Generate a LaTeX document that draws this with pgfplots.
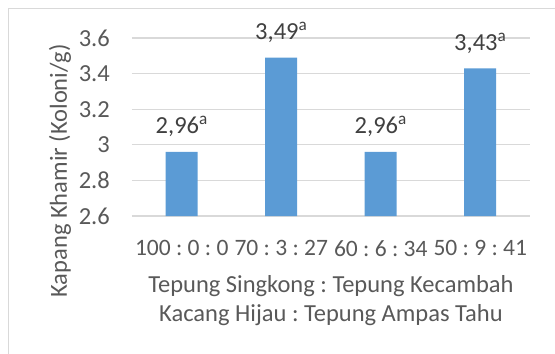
\documentclass[border=0pt]{standalone}
\usepackage{pgfplots}
\pgfplotsset{compat=1.18}
\usepackage{fontspec}
\setmainfont{Carlito}
\frenchspacing
\definecolor{barblue}{HTML}{5B9BD5}
\definecolor{gridgray}{HTML}{D9D9D9}
\definecolor{txtgray}{HTML}{595959}
\definecolor{lblgray}{HTML}{404040}
\begin{document}
\frenchspacing
\begin{tikzpicture}
\useasboundingbox (-132bp,-138bp) rectangle (423bp,216bp);
\clip (-132bp,-138bp) rectangle (423bp,216bp);
\draw[gridgray, line width=1bp] (-123.5bp,-170bp) rectangle (460bp,207.5bp);
\begin{axis}[
  at={(0,0)}, anchor=south west,
  scale only axis, width=398bp, height=178bp,
  xmin=-0.5, xmax=3.5, ymin=2.6, ymax=3.6,
  ybar, bar width=32bp,
  xtick=data,
  xticklabels={100 : 0 : 0, 70 : 3 : 27, 60 : 6 : 34, 50 : 9 : 41},
  ytick={2.6,2.8,3,3.2,3.4,3.6},
  major tick length=0pt,
  axis line style={draw=none},
  ymajorgrids,
  major grid style={draw=gridgray, line width=1.3bp},
  /pgf/number format/assume math mode=true,
  font=\fontsize{24.5bp}{29bp}\selectfont,
  tick label style={text=txtgray, font=\fontsize{24.5bp}{29bp}\selectfont},
  xticklabel style={anchor=north, inner sep=0pt, yshift=-24bp, font=\fontsize{23.5bp}{28bp}\selectfont},
  yticklabel style={anchor=east, inner sep=0pt, xshift=-22bp},
  every axis y label/.style={at={(axis description cs:-0.181,0.253)}, rotate=90, anchor=center, text=txtgray},
  ylabel={Kapang Khamir (Koloni/g)},
  every axis x label/.style={at={(axis description cs:0.5,0)}, anchor=north, yshift=-59bp, inner sep=0pt, align=center, text=txtgray},
  xlabel={Tepung Singkong : Tepung Kecambah\\Kacang Hijau : Tepung Ampas Tahu},
  nodes near coords={\pgfmathprintnumber[use comma,fixed,fixed zerofill,precision=2]{\pgfplotspointmeta}\textsuperscript{a}},
  every node near coord/.append style={anchor=base, yshift=18bp, inner sep=0pt, text=lblgray, font=\fontsize{24.5bp}{29bp}\selectfont},
  point meta=y,
  clip=false,
]
\addplot[fill=barblue, draw=none, bar shift=0pt] coordinates {(0,2.96) (1,3.49) (2,2.96) (3,3.43)};
\end{axis}
\end{tikzpicture}
\end{document}
